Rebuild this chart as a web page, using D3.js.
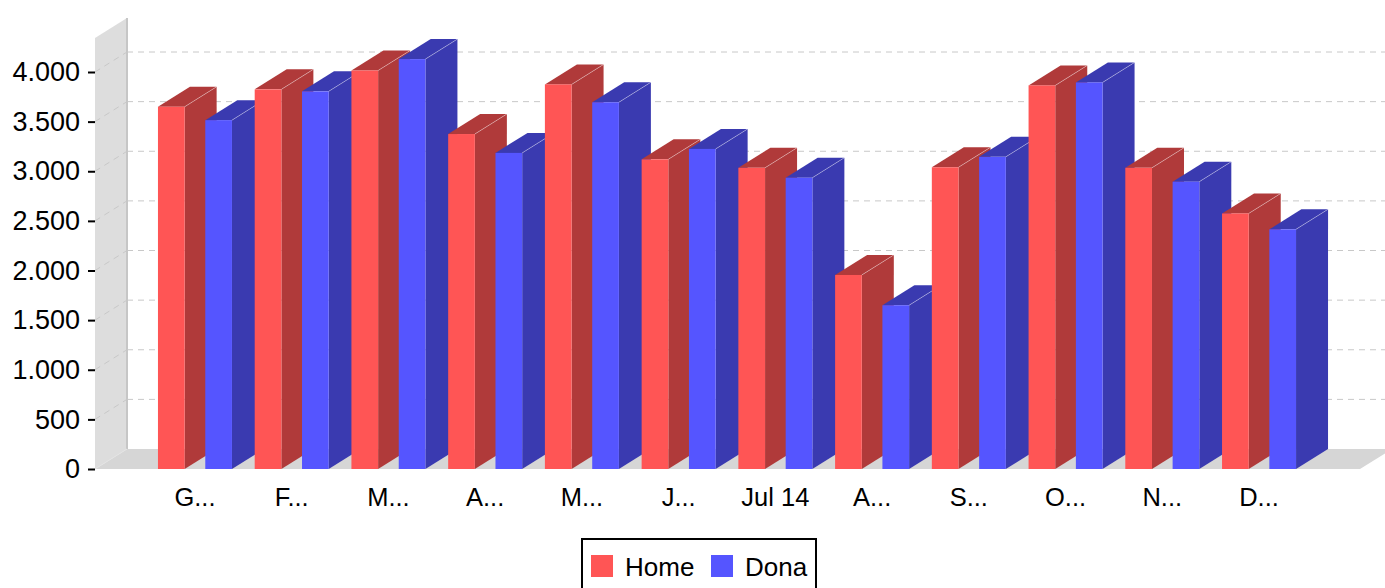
<!DOCTYPE html>
<html>
<head>
<meta charset="utf-8">
<script src="https://cdn.jsdelivr.net/npm/d3@7/dist/d3.min.js"></script>
<style>
  html, body { margin: 0; padding: 0; background: #ffffff; }
  svg { display: block; }
  text { font-family: "Liberation Sans", Arial, sans-serif; }
</style>
</head>
<body>
<svg id="chart" width="1385" height="588"></svg>
<script>
// ---- Data ----
const categories = ["G...", "F...", "M...", "A...", "M... ", "J...", "Jul 14", "A... ", "S...", "O...", "N...", "D..."];
const seriesNames = ["Home", "Dona"];
const homeValues = [3650, 3825, 4015, 3375, 3875, 3120, 3035, 1955, 3040, 3865, 3035, 2575];
const donaValues = [3515, 3805, 4130, 3185, 3695, 3225, 2935, 1650, 3145, 3895, 2895, 2415];
const yTicks = [0, 500, 1000, 1500, 2000, 2500, 3000, 3500, 4000];
const seriesColors = ["#ff5555", "#5555ff"];
const sideColors = ["#b03a3a", "#3a3ab0"];

// ---- Layout ----
const svg = d3.select("#chart");
const depthX = 32, depthY = -20;
const y = d3.scaleLinear().domain([0, 4000]).range([469, 72]);
const x = d3.scaleBand().domain(categories).range([146.6, 1307.4]);
const xs = d3.scaleBand().domain(seriesNames).range([-37, 37]).paddingInner(0.436);
const wallLeft = 95, floorRight = 1360;
const wallTopVal = y.invert(38);
const locale = d3.formatLocale({ decimal: ",", thousands: ".", grouping: [3], currency: ["", "€"] });
const fmt = locale.format(",d");

// Left wall
svg.append("polygon")
  .attr("points", [[wallLeft, y(0)], [wallLeft, y(wallTopVal)], [wallLeft + depthX, y(wallTopVal) + depthY], [wallLeft + depthX, y(0) + depthY]].map(p => p.join(",")).join(" "))
  .attr("fill", "#dddddd");
svg.append("line")
  .attr("x1", wallLeft + depthX).attr("x2", wallLeft + depthX)
  .attr("y1", y(wallTopVal) + depthY).attr("y2", y(0) + depthY)
  .attr("stroke", "#c6c6c6").attr("stroke-width", 2);

// Floor
svg.append("polygon")
  .attr("points", [[wallLeft, y(0)], [wallLeft + depthX, y(0) + depthY], [floorRight + depthX, y(0) + depthY], [floorRight, y(0)]].map(p => p.join(",")).join(" "))
  .attr("fill", "#d6d6d6");
svg.append("line")
  .attr("x1", wallLeft).attr("y1", y(0)).attr("x2", wallLeft + depthX).attr("y2", y(0) + depthY)
  .attr("stroke", "#e4e4e4").attr("stroke-width", 1);

// Gridlines (back wall + left wall diagonals)
const grid = svg.append("g");
yTicks.filter(v => v > 0).forEach(v => {
  grid.append("line")
    .attr("x1", wallLeft + depthX).attr("x2", 1385)
    .attr("y1", y(v) + depthY).attr("y2", y(v) + depthY)
    .attr("stroke", "#c8c8c8").attr("stroke-dasharray", "6,5").attr("stroke-width", 1);
  grid.append("line")
    .attr("x1", wallLeft).attr("y1", y(v))
    .attr("x2", wallLeft + depthX).attr("y2", y(v) + depthY)
    .attr("stroke", "#c8c8c8").attr("stroke-dasharray", "6,5").attr("stroke-width", 1);
});

// Y axis
const yAxis = d3.axisLeft(y).tickValues(yTicks).tickFormat(fmt).tickSize(7).tickPadding(8);
const gy = svg.append("g").attr("transform", `translate(${wallLeft},0)`).call(yAxis);
gy.select(".domain").remove();
gy.selectAll(".tick line").attr("stroke", "#000").attr("stroke-width", 2);
gy.selectAll(".tick text").attr("font-size", 27).attr("fill", "#000")
  .attr("font-family", "Liberation Sans, Arial, sans-serif");

// Bars
const bars = svg.append("g");
categories.forEach((c, i) => {
  const vals = [homeValues[i], donaValues[i]];
  seriesNames.forEach((s, k) => {
    const cx = x(c) + x.bandwidth() / 2;
    const x0 = cx + xs(s);
    const w = xs.bandwidth();
    const y0 = y(0), y1 = y(vals[k]);
    const g = bars.append("g");
    g.append("polygon")
      .attr("points", [[x0 + w, y0], [x0 + w, y1], [x0 + w + depthX, y1 + depthY], [x0 + w + depthX, y0 + depthY]].map(p => p.join(",")).join(" "))
      .attr("fill", sideColors[k]);
    g.append("polygon")
      .attr("points", [[x0, y1], [x0 + depthX, y1 + depthY], [x0 + w + depthX, y1 + depthY], [x0 + w, y1]].map(p => p.join(",")).join(" "))
      .attr("fill", sideColors[k]);
    g.append("line")
      .attr("x1", x0 + w).attr("y1", y1).attr("x2", x0 + w + depthX).attr("y2", y1 + depthY)
      .attr("stroke", "rgba(255,255,255,0.35)").attr("stroke-width", 1);
    g.append("rect")
      .attr("x", x0).attr("y", y1).attr("width", w).attr("height", y0 - y1)
      .attr("fill", seriesColors[k]);
  });
});

// X labels
svg.append("g").selectAll("text").data(categories).join("text")
  .attr("x", d => x(d) + x.bandwidth() / 2)
  .attr("y", 506)
  .attr("text-anchor", "middle")
  .attr("font-size", 25.5)
  .attr("fill", "#000")
  .text(d => d.trim());

// Legend
const lg = svg.append("g");
lg.append("rect").attr("x", 582).attr("y", 539).attr("width", 234).attr("height", 70)
  .attr("fill", "#fff").attr("stroke", "#000").attr("stroke-width", 2);
const legendX = [591, 711];
seriesNames.forEach((s, k) => {
  lg.append("rect").attr("x", legendX[k]).attr("y", 555).attr("width", 22).attr("height", 22)
    .attr("fill", seriesColors[k]);
  lg.append("text").attr("x", legendX[k] + 34).attr("y", 576)
    .attr("font-size", 26).attr("fill", "#000").text(s);
});
</script>
</body>
</html>
